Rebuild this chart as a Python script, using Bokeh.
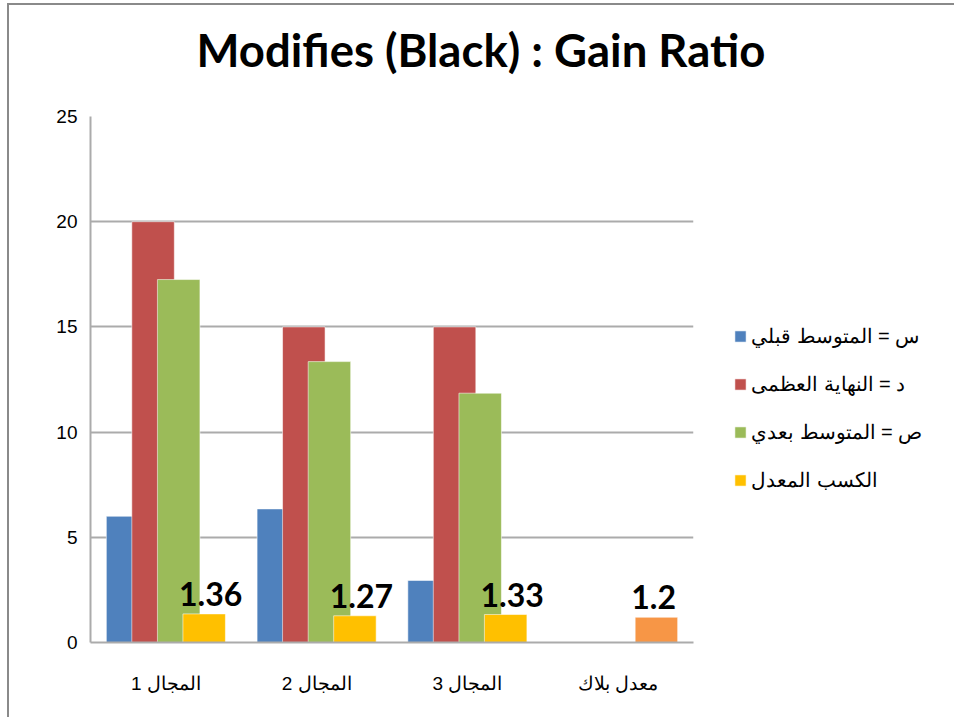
from bokeh.plotting import figure
from bokeh.layouts import column
from bokeh.models import (FactorRange, Range1d, FixedTicker, Legend, LegendItem,
                          ColumnDataSource)
from bokeh.transform import dodge
from bokeh.core.properties import value
from bokeh.embed import file_html
from bokeh.resources import INLINE

# ---------------- data ----------------
categories = ["المجال 1", "المجال 2", "المجال 3", "معدل بلاك"]
before_mean = [6.0, 6.35, 2.95]
max_score = [20, 15, 15]
after_mean = [17.25, 13.35, 11.85]
gain_ratio = [1.36, 1.27, 1.33, 1.2]
series_names = ["س = المتوسط قبلي", "د = النهاية العظمى", "ص = المتوسط بعدي", "الكسب المعدل"]
y_ticks = [0, 5, 10, 15, 20, 25]
title_text = "Modifies (Black) : Gain Ratio"

# ---------------- styles ----------------
BLUE, RED, GREEN, YELLOW, ORANGE = "#4F81BD", "#C0504D", "#9BBB59", "#FFC000", "#F79646"
GRID = "#ABABAB"
BAR_W = 0.282
OFFS = [-0.254, -0.085, 0.085, 0.254]

p = figure(x_range=FactorRange(*categories, range_padding=0),
           y_range=Range1d(0, 25),
           frame_width=603, frame_height=526,
           min_border_left=81, min_border_right=250,
           min_border_top=140, min_border_bottom=75,
           output_backend="svg", toolbar_location=None,
           background_fill_color="white", border_fill_color=None)
p.outline_line_color = None
p.margin = (-29, 0, 0, 0)

src = ColumnDataSource(dict(cat=categories[:3], before=before_mean,
                            mx=max_score, after=after_mean, gain=gain_ratio[:3]))
src_last = ColumnDataSource(dict(cat=categories[3:], gain=gain_ratio[3:]))
src_lab = ColumnDataSource(dict(cat=categories, gain=gain_ratio,
                                label=[f"{v:g}" for v in gain_ratio]))

common = dict(width=BAR_W, line_color="white", line_alpha=0.55, line_width=1)
r1 = p.vbar(x=dodge("cat", OFFS[0], range=p.x_range), top="before", source=src,
            fill_color=BLUE, **common)
r2 = p.vbar(x=dodge("cat", OFFS[1], range=p.x_range), top="mx", source=src,
            fill_color=RED, **common)
r3 = p.vbar(x=dodge("cat", OFFS[2], range=p.x_range), top="after", source=src,
            fill_color=GREEN, **common)
r4 = p.vbar(x=dodge("cat", OFFS[3], range=p.x_range), top="gain", source=src,
            fill_color=YELLOW, **common)
p.vbar(x=dodge("cat", OFFS[3], range=p.x_range), top="gain", source=src_last,
       fill_color=ORANGE, **common)

p.text(x=dodge("cat", OFFS[3] - BAR_W / 2 - 0.026, range=p.x_range), y="gain",
       text="label", source=src_lab, text_align="left", text_baseline="alphabetic",
       y_offset=-20, text_font=value("Lato"), text_font_style="bold",
       text_font_size="32px", text_color="black")

legend = Legend(items=[LegendItem(label=series_names[0], renderers=[r1]),
                       LegendItem(label=series_names[1], renderers=[r2]),
                       LegendItem(label=series_names[2], renderers=[r3]),
                       LegendItem(label=series_names[3], renderers=[r4])],
                location=(30, 140), glyph_width=14, glyph_height=14,
                label_standoff=4, spacing=24, label_height=20, padding=10, margin=0,
                label_text_font="Liberation Sans", label_text_font_size="20px",
                label_text_color="black",
                border_line_alpha=0, background_fill_alpha=0)
p.add_layout(legend, "right")

# title
p.title.text = title_text
p.title.align = "left"
p.title.offset = 106
p.title.standoff = 80
p.title.text_font = "Lato"
p.title.text_font_style = "bold"
p.title.text_font_size = "45.5px"
p.title.text_color = "black"

# axes
p.yaxis.ticker = FixedTicker(ticks=y_ticks)
p.yaxis.major_tick_line_color = None
p.yaxis.minor_tick_line_color = None
p.yaxis.axis_line_color = GRID
p.yaxis.axis_line_width = 2
p.yaxis.major_label_standoff = 7
p.yaxis.major_label_text_font = "Liberation Sans"
p.yaxis.major_label_text_font_size = "19px"
p.yaxis.major_label_text_color = "black"

p.xaxis.major_tick_line_color = None
p.xaxis.minor_tick_line_color = None
p.xaxis.axis_line_color = GRID
p.xaxis.axis_line_width = 2
p.xaxis.major_label_standoff = 24
p.xaxis.major_label_text_font = "Liberation Sans"
p.xaxis.major_label_text_font_size = "19px"
p.xaxis.major_label_text_color = "black"

p.xgrid.grid_line_color = None
p.ygrid.grid_line_color = GRID
p.ygrid.grid_line_width = 2
p.ygrid.ticker = FixedTicker(ticks=y_ticks)

layout = column(p, margin=(3, 0, 0, 7),
                styles={"border-top": "2px solid #8A8A8A",
                        "border-left": "2px solid #8A8A8A"})

open("out.html", "w").write(file_html(layout, INLINE))
